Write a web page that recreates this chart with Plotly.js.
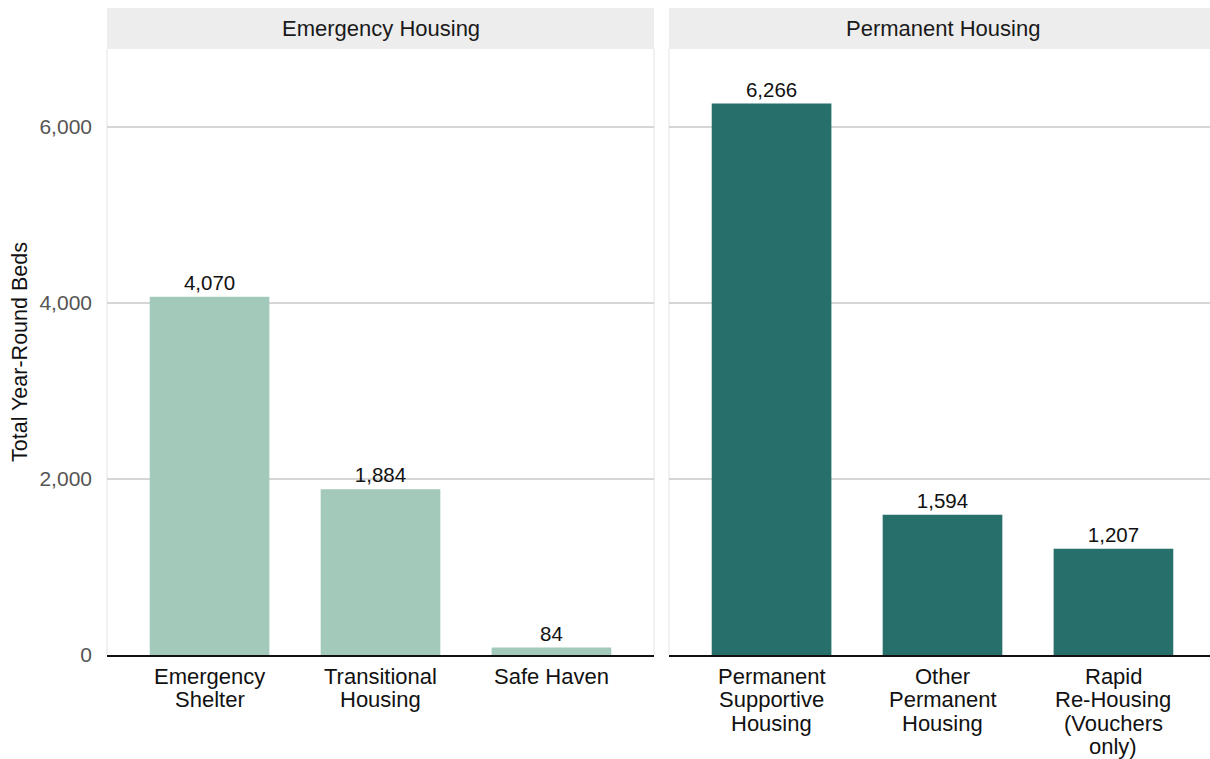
<!DOCTYPE html>
<html>
<head>
<meta charset="utf-8">
<script src="https://cdn.plot.ly/plotly-3.0.1.min.js"></script>
<style>html,body{margin:0;padding:0;background:#fff;}#chart{width:1210px;height:759px;}</style>
</head>
<body>
<div id="chart"></div>
<script>
const panels = ["Emergency Housing", "Permanent Housing"];
const emergencyCategories = ["Emergency Shelter", "Transitional Housing", "Safe Haven"];
const emergencyLabels = ["Emergency<br>Shelter", "Transitional<br>Housing", "Safe Haven"];
const emergencyValues = [4070, 1884, 84];
const permanentCategories = ["Permanent Supportive Housing", "Other Permanent Housing", "Rapid Re-Housing (Vouchers only)"];
const permanentLabels = ["Permanent<br>Supportive<br>Housing", "Other<br>Permanent<br>Housing", "Rapid<br>Re-Housing<br>(Vouchers<br>only)"];
const permanentValues = [6266, 1594, 1207];
const yTickValues = [0, 2000, 4000, 6000];
const yTickLabels = ["0", "2,000", "4,000", "6,000"];

const W = 1210, H = 759;
const plotTop = 49, plotBottom = 655;
const leftX0 = 107, leftX1 = 654, rightX0 = 669;
const stripH = 41;
const font = "Liberation Sans, Arial, sans-serif";

const traceCommon = {
  type: "bar",
  width: 0.7,
  textposition: "outside",
  texttemplate: "%{y:,}",
  textfont: {family: font, size: 20.5, color: "#111"},
  cliponaxis: false,
  hoverinfo: "skip",
  showlegend: false
};

const data = [
  Object.assign({}, traceCommon, {
    x: emergencyCategories, y: emergencyValues, xaxis: "x", yaxis: "y",
    marker: {color: "#a3c9ba"}
  }),
  Object.assign({}, traceCommon, {
    x: permanentCategories, y: permanentValues, xaxis: "x2", yaxis: "y",
    marker: {color: "#276f6b"}
  })
];

const plotH = plotBottom - plotTop;
const stripTop = 1 + stripH / plotH;
const ymax = 6886;

const axisX = {
  type: "category",
  showgrid: false,
  zeroline: false,
  showline: true,
  linecolor: "#111",
  linewidth: 2,
  ticks: "",
  showticklabels: false,
  fixedrange: true
};

const annotations = [
  {text: panels[0], xref: "paper", yref: "paper", x: (leftX0 + leftX1) / 2 / W, y: (1 + stripTop) / 2, showarrow: false, xanchor: "center", yanchor: "middle", font: {family: font, size: 22, color: "#1a1a1a"}},
  {text: panels[1], xref: "paper", yref: "paper", x: (rightX0 + leftX1 - leftX0 + rightX0) / 2 / W, y: (1 + stripTop) / 2, showarrow: false, xanchor: "center", yanchor: "middle", font: {family: font, size: 22, color: "#1a1a1a"}},
  {text: "Total Year-Round Beds", xref: "paper", yref: "paper", x: 20 / W, y: 0.5, textangle: -90, showarrow: false, xanchor: "center", yanchor: "middle", font: {family: font, size: 21.5, color: "#111"}}
];

function addCategoryLabels(cats, labels, xref) {
  cats.forEach((c, i) => {
    labels[i].split("<br>").forEach((line, j) => {
      annotations.push({
        text: line, xref: xref, yref: "paper", x: c, y: 0,
        yanchor: "middle", xanchor: "center", yshift: -(21 + j * 23.6),
        showarrow: false, font: {family: font, size: 22, color: "#111"}
      });
    });
  });
}
addCategoryLabels(emergencyCategories, emergencyLabels, "x");
addCategoryLabels(permanentCategories, permanentLabels, "x2");

const layout = {
  width: W, height: H,
  margin: {l: 0, r: 0, t: plotTop, b: H - plotBottom},
  paper_bgcolor: "#fff",
  plot_bgcolor: "#fff",
  xaxis: Object.assign({}, axisX, {
    domain: [leftX0 / W, leftX1 / W],
    range: [-0.6, 2.6],
    anchor: "y"
  }),
  xaxis2: Object.assign({}, axisX, {
    domain: [rightX0 / W, 1],
    range: [-0.6, -0.6 + (W - rightX0) / ((leftX1 - leftX0) / 3.2)],
    anchor: "y"
  }),
  yaxis: {
    range: [0, ymax],
    tickvals: yTickValues,
    ticktext: yTickLabels,
    showgrid: true,
    gridcolor: "#d6d6d6",
    gridwidth: 2,
    zeroline: false,
    showline: false,
    ticks: "",
    ticklabelstandoff: 14,
    tickfont: {family: font, size: 21, color: "#555"},
    anchor: "x",
    fixedrange: true
  },
  shapes: [
    {type: "rect", xref: "paper", yref: "paper", x0: leftX0 / W, x1: leftX1 / W, y0: 1, y1: stripTop, fillcolor: "#ededed", line: {width: 0}, layer: "below"},
    {type: "rect", xref: "paper", yref: "paper", x0: rightX0 / W, x1: 1, y0: 1, y1: stripTop, fillcolor: "#ededed", line: {width: 0}, layer: "below"},
    {type: "line", xref: "paper", yref: "paper", x0: leftX0 / W, x1: leftX0 / W, y0: 0, y1: 1, line: {color: "#ececec", width: 1.5}, layer: "below"},
    {type: "line", xref: "paper", yref: "paper", x0: leftX1 / W, x1: leftX1 / W, y0: 0, y1: 1, line: {color: "#ececec", width: 1.5}, layer: "below"},
    {type: "line", xref: "paper", yref: "paper", x0: rightX0 / W, x1: rightX0 / W, y0: 0, y1: 1, line: {color: "#ececec", width: 1.5}, layer: "below"}
  ],
  annotations: annotations
};

Plotly.newPlot("chart", data, layout, {displayModeBar: false, staticPlot: true});
</script>
</body>
</html>
